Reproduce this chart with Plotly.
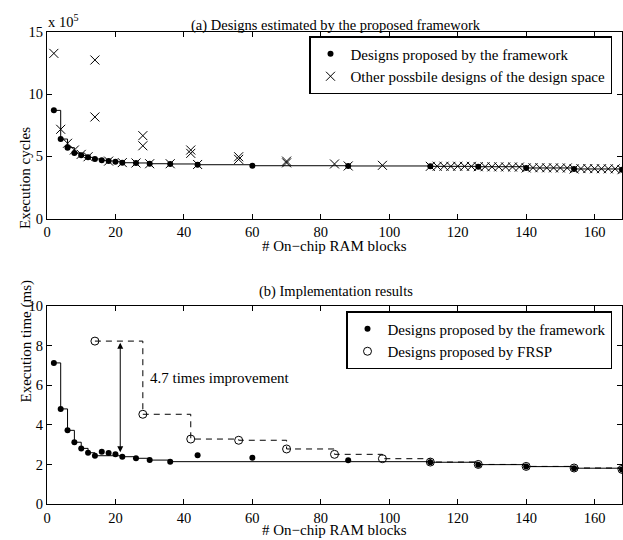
import plotly.graph_objects as go

# ---------------- Data ----------------
# (a) Designs estimated by the framework (execution cycles, x 10^5)
fw_a_x = [2, 4, 6, 8, 10, 12, 14, 16, 18, 20, 22, 26, 30, 36, 44, 60, 88, 112, 126, 140, 154, 168]
fw_a_y = [8.69, 6.39, 5.70, 5.27, 5.08, 4.92, 4.79, 4.68, 4.63, 4.57, 4.49, 4.47, 4.41, 4.39, 4.33,
          4.25, 4.23, 4.20, 4.17, 4.07, 3.99, 3.93]

other_x = [2, 4, 6, 8, 10, 12, 14, 14, 18, 22, 26, 28, 28, 30, 36, 42, 42, 44, 56, 56, 70, 70, 84, 88, 98,
           112, 114, 116, 118, 120, 122, 124, 126, 128, 130, 132, 134, 136, 138,
           140, 142, 144, 146, 148, 150, 152, 154, 156, 158, 160, 162, 164, 166, 168]
other_y = [13.26, 7.17, 6.05, 5.51, 5.16, 4.97, 12.73, 8.16, 4.62, 4.50, 4.47, 6.66, 5.85, 4.41, 4.41,
           5.51, 5.24, 4.35, 4.97, 4.76, 4.62, 4.48, 4.39, 4.23, 4.28,
           4.20, 4.21, 4.21, 4.20, 4.21, 4.20, 4.20, 4.17, 4.17, 4.16, 4.16, 4.15, 4.15, 4.14,
           4.07, 4.09, 4.09, 4.08, 4.08, 4.07, 4.07, 3.99, 4.02, 4.02, 4.01, 4.01, 4.00, 4.00, 3.93]

# (b) Implementation results (execution time, ms)
fw_b_x = [2, 4, 6, 8, 10, 12, 14, 16, 18, 20, 22, 26, 30, 36, 44, 60, 88, 112, 126, 140, 154, 168]
fw_b_y = [7.13, 4.81, 3.73, 3.13, 2.82, 2.60, 2.45, 2.65, 2.59, 2.52, 2.40, 2.32, 2.23, 2.15, 2.47,
          2.35, 2.22, 2.12, 2.00, 1.90, 1.82, 1.75]
# Pareto front of the framework designs (step line)
front_b_x = [2, 4, 6, 8, 10, 12, 14, 22, 26, 30, 36, 112, 126, 140, 154, 168]
front_b_y = [7.13, 4.81, 3.73, 3.13, 2.82, 2.60, 2.45, 2.40, 2.32, 2.23, 2.15, 2.12, 2.00, 1.90, 1.82, 1.75]

frsp_x = [14, 28, 42, 56, 70, 84, 98, 112, 126, 140, 154, 168]
frsp_y = [8.23, 4.54, 3.29, 3.23, 2.79, 2.52, 2.30, 2.13, 2.01, 1.91, 1.83, 1.76]

x_ticks = [0, 20, 40, 60, 80, 100, 120, 140, 160]
ya_ticks = [0, 5, 10, 15]
yb_ticks = [0, 2, 4, 6, 8, 10]

improvement_text = "4.7 times improvement"

# ---------------- Figure ----------------
W, H = 623, 540
FONT = "Liberation Serif, Times New Roman, serif"


def px_x(p):
    return p / W


def px_y(p):
    return 1 - p / H


fig = go.Figure()

# (a)
fig.add_trace(go.Scatter(x=fw_a_x, y=fw_a_y, mode="lines", line=dict(color="black", width=1, shape="hv"),
                         showlegend=False, xaxis="x", yaxis="y", hoverinfo="skip"))
fig.add_trace(go.Scatter(x=other_x, y=other_y, mode="markers",
                         marker=dict(symbol="x-thin", size=9, line=dict(color="black", width=1), color="black"),
                         name="Other possbile designs of the design space", xaxis="x", yaxis="y", legend="legend"))
fig.add_trace(go.Scatter(x=fw_a_x, y=fw_a_y, mode="markers", marker=dict(symbol="circle", size=6, color="black"),
                         name="Designs proposed by the framework", xaxis="x", yaxis="y", legend="legend"))

# (b)
fig.add_trace(go.Scatter(x=frsp_x, y=frsp_y, mode="lines",
                         line=dict(color="black", width=1, shape="hv", dash="6px,5px"),
                         showlegend=False, xaxis="x2", yaxis="y2", hoverinfo="skip"))
fig.add_trace(go.Scatter(x=front_b_x, y=front_b_y, mode="lines", line=dict(color="black", width=1, shape="hv"),
                         showlegend=False, xaxis="x2", yaxis="y2", hoverinfo="skip"))
fig.add_trace(go.Scatter(x=fw_b_x, y=fw_b_y, mode="markers", marker=dict(symbol="circle", size=6, color="black"),
                         name="Designs proposed by the framework", xaxis="x2", yaxis="y2", legend="legend2"))
fig.add_trace(go.Scatter(x=frsp_x, y=frsp_y, mode="markers",
                         marker=dict(symbol="circle-open", size=8, color="black", line=dict(width=1)),
                         name="Designs proposed by FRSP", xaxis="x2", yaxis="y2", legend="legend2"))

axis_common = dict(showline=True, linecolor="black", linewidth=1, mirror="ticks", ticks="inside",
                   ticklen=5, tickcolor="black", showgrid=False, zeroline=False,
                   tickfont=dict(family=FONT, size=14.5, color="black"), automargin=False)

x_dom = [px_x(47), px_x(622)]
fig.update_layout(
    width=W, height=H, template="none",
    paper_bgcolor="white", plot_bgcolor="white",
    margin=dict(l=0, r=0, t=0, b=0),
    font=dict(family=FONT, size=15, color="black"),
    xaxis=dict(domain=x_dom, range=[0, 168], tickvals=x_ticks, anchor="y", **axis_common),
    yaxis=dict(domain=[px_y(218.7), px_y(31.7)], range=[0, 15], tickvals=ya_ticks, anchor="x", **axis_common),
    xaxis2=dict(domain=x_dom, range=[0, 168], tickvals=x_ticks, anchor="y2", **axis_common),
    yaxis2=dict(domain=[px_y(504.3), px_y(306)], range=[0, 10], tickvals=yb_ticks, anchor="x2", **axis_common),
    legend=dict(x=px_x(612), y=px_y(36), xanchor="right", yanchor="top", bgcolor="white",
                bordercolor="black", borderwidth=1.5, font=dict(family=FONT, size=15, color="black"),
                traceorder="reversed", tracegroupgap=0),
    legend2=dict(x=px_x(612), y=px_y(311), xanchor="right", yanchor="top", bgcolor="white",
                 bordercolor="black", borderwidth=1.5, font=dict(family=FONT, size=15, color="black"),
                 tracegroupgap=0),
)

ann = []
ann.append(dict(text="(a) Designs estimated by the proposed framework", x=px_x(336), y=px_y(15),
                xref="paper", yref="paper", showarrow=False, font=dict(size=14.5)))
ann.append(dict(text="(b) Implementation results", x=px_x(336), y=px_y(291),
                xref="paper", yref="paper", showarrow=False, font=dict(size=14.5)))
ann.append(dict(text="x 10<sup>5</sup>", x=px_x(46), y=px_y(32), xref="paper", yref="paper",
                xanchor="left", yanchor="bottom", showarrow=False, font=dict(size=14.5)))
ann.append(dict(text="# On\u2212chip RAM blocks", x=px_x(334.5), y=px_y(256), xref="paper", yref="paper",
                yanchor="bottom", showarrow=False, font=dict(size=15)))
ann.append(dict(text="# On\u2212chip RAM blocks", x=px_x(334.5), y=px_y(540), xref="paper", yref="paper",
                yanchor="bottom", showarrow=False, font=dict(size=15)))
ann.append(dict(text="Execution cycles", x=px_x(15), y=px_y(125), xref="paper", yref="paper",
                showarrow=False, textangle=-90, font=dict(size=15)))
ann.append(dict(text="Execution time (ms)", x=px_x(15), y=px_y(405), xref="paper", yref="paper",
                showarrow=False, textangle=-90, font=dict(size=15)))
# double-headed arrow
ann.append(dict(text="", x=21.4, y=8.15, ax=21.4, ay=2.55, xref="x2", yref="y2", axref="x2", ayref="y2",
                showarrow=True, arrowhead=2, startarrowhead=2, arrowside="end+start", arrowsize=1.2,
                startarrowsize=1.2, arrowwidth=1, arrowcolor="black"))
ann.append(dict(text=improvement_text, x=29.6, y=6.35, xref="x2", yref="y2", xanchor="left",
                showarrow=False, font=dict(size=15)))
fig.update_layout(annotations=ann)

fig.write_html("out.html",
               config={"displayModeBar": False},
               post_script="document.body.style.margin='0';document.body.style.padding='0';"
                           "document.body.style.overflow='hidden';")
